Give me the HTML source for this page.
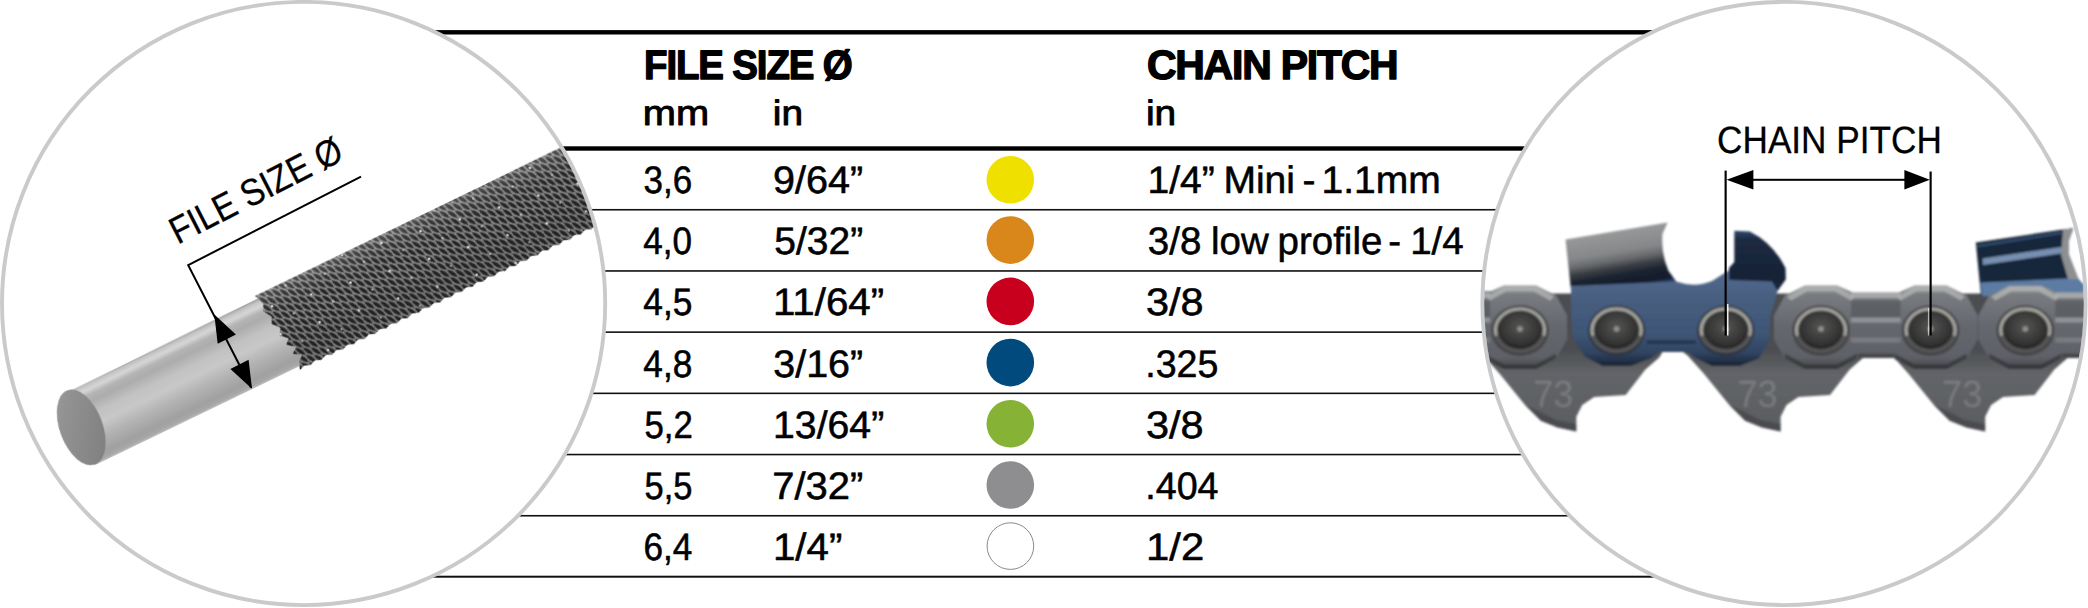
<!DOCTYPE html>
<html lang="en"><head><meta charset="utf-8"><title>File size and chain pitch</title>
<style>
html,body{margin:0;padding:0;background:#fff}
body{width:2088px;height:608px;overflow:hidden}
svg{display:block;font-family:'Liberation Sans', sans-serif}
</style></head><body>
<svg width="2088" height="608" viewBox="0 0 2088 608" text-rendering="geometricPrecision">
<rect x="430" y="30.1" width="1230" height="4.4" fill="#000"/>
<rect x="540" y="146.3" width="1000" height="4.4" fill="#000"/>
<rect x="430" y="208.95" width="1230" height="1.6" fill="#111"/>
<rect x="430" y="270.15" width="1230" height="1.6" fill="#111"/>
<rect x="430" y="331.35" width="1230" height="1.6" fill="#111"/>
<rect x="430" y="392.55" width="1230" height="1.6" fill="#111"/>
<rect x="430" y="453.75" width="1230" height="1.6" fill="#111"/>
<rect x="430" y="514.95" width="1230" height="1.6" fill="#111"/>
<rect x="430" y="575.70" width="1230" height="2.0" fill="#111"/>
<circle cx="1010.3" cy="179.8" r="23.8" fill="#f0e000"/>
<circle cx="1010.3" cy="240.1" r="23.8" fill="#d9861b"/>
<circle cx="1010.3" cy="301.4" r="23.8" fill="#c8001e"/>
<circle cx="1010.3" cy="362.6" r="23.8" fill="#004a7d"/>
<circle cx="1010.3" cy="423.8" r="23.8" fill="#86b235"/>
<circle cx="1010.3" cy="485.0" r="23.8" fill="#8e8e90"/>
<circle cx="1010.4" cy="546.1" r="23.3" fill="#fff" stroke="#8a8a8a" stroke-width="1"/>
<text transform="translate(644.03 79.4) scale(0.9374 1)" style="font-size:41.0px;font-weight:bold;letter-spacing:-1.2px;stroke:#000;stroke-width:1.4px;stroke-linejoin:round;">FILE SIZE Ø</text>
<text transform="translate(1146.90 79.4) scale(0.9982 1)" style="font-size:41.0px;font-weight:bold;letter-spacing:-1.2px;stroke:#000;stroke-width:1.4px;stroke-linejoin:round;">CHAIN PITCH</text>
<text transform="translate(642.74 124.55) scale(1.1306 1)" style="font-size:35.2px;font-weight:normal;stroke:#000;stroke-width:0.9px;stroke-linejoin:round;">mm</text>
<text transform="translate(772.80 124.55) scale(1.1021 1)" style="font-size:35.2px;font-weight:normal;stroke:#000;stroke-width:0.9px;stroke-linejoin:round;">in</text>
<text transform="translate(1146.00 124.55) scale(1.1021 1)" style="font-size:35.2px;font-weight:normal;stroke:#000;stroke-width:0.9px;stroke-linejoin:round;">in</text>
<text transform="translate(643.61 192.75) scale(0.9139 1)" style="font-size:38.3px;font-weight:normal;stroke:#000;stroke-width:0.55px;stroke-linejoin:round;">3,6</text>
<text transform="translate(773.05 192.75) scale(1.0324 1)" style="font-size:38.3px;font-weight:normal;stroke:#000;stroke-width:0.55px;stroke-linejoin:round;">9/64”</text>
<text transform="translate(0 192.75) scale(1.0198 1)" style="font-size:38.3px;font-weight:normal;stroke:#000;stroke-width:0.55px;stroke-linejoin:round;"><tspan x="1125.23">1/4”</tspan> <tspan x="1199.65">Mini</tspan> <tspan x="1277.33">-</tspan> <tspan x="1295.88">1.1mm</tspan></text>
<text transform="translate(643.29 253.72) scale(0.9155 1)" style="font-size:38.3px;font-weight:normal;stroke:#000;stroke-width:0.55px;stroke-linejoin:round;">4,0</text>
<text transform="translate(774.33 253.72) scale(1.0176 1)" style="font-size:38.3px;font-weight:normal;stroke:#000;stroke-width:0.55px;stroke-linejoin:round;">5/32”</text>
<text transform="translate(0 253.72) scale(1.0053 1)" style="font-size:38.3px;font-weight:normal;stroke:#000;stroke-width:0.55px;stroke-linejoin:round;"><tspan x="1141.81">3/8</tspan> <tspan x="1204.56">low</tspan> <tspan x="1270.77">profile</tspan> <tspan x="1380.89">-</tspan> <tspan x="1402.74">1/4</tspan></text>
<text transform="translate(643.29 314.72) scale(0.9223 1)" style="font-size:38.3px;font-weight:normal;stroke:#000;stroke-width:0.55px;stroke-linejoin:round;">4,5</text>
<text transform="translate(772.97 314.72) scale(1.0513 1)" style="font-size:38.3px;font-weight:normal;stroke:#000;stroke-width:0.55px;stroke-linejoin:round;">11/64”</text>
<text transform="translate(1145.90 314.72) scale(1.0822 1)" style="font-size:38.3px;font-weight:normal;stroke:#000;stroke-width:0.55px;stroke-linejoin:round;">3/8</text>
<text transform="translate(643.29 376.72) scale(0.9200 1)" style="font-size:38.3px;font-weight:normal;stroke:#000;stroke-width:0.55px;stroke-linejoin:round;">4,8</text>
<text transform="translate(773.31 376.72) scale(1.0294 1)" style="font-size:38.3px;font-weight:normal;stroke:#000;stroke-width:0.55px;stroke-linejoin:round;">3/16”</text>
<text transform="translate(1145.32 376.72) scale(0.9800 1)" style="font-size:38.3px;font-weight:normal;stroke:#000;stroke-width:0.55px;stroke-linejoin:round;">.325</text>
<text transform="translate(644.46 437.72) scale(0.9085 1)" style="font-size:38.3px;font-weight:normal;stroke:#000;stroke-width:0.55px;stroke-linejoin:round;">5,2</text>
<text transform="translate(773.04 437.72) scale(1.0238 1)" style="font-size:38.3px;font-weight:normal;stroke:#000;stroke-width:0.55px;stroke-linejoin:round;">13/64”</text>
<text transform="translate(1145.90 437.72) scale(1.0822 1)" style="font-size:38.3px;font-weight:normal;stroke:#000;stroke-width:0.55px;stroke-linejoin:round;">3/8</text>
<text transform="translate(644.48 498.72) scale(0.8995 1)" style="font-size:38.3px;font-weight:normal;stroke:#000;stroke-width:0.55px;stroke-linejoin:round;">5,5</text>
<text transform="translate(772.18 498.72) scale(1.0426 1)" style="font-size:38.3px;font-weight:normal;stroke:#000;stroke-width:0.55px;stroke-linejoin:round;">7/32”</text>
<text transform="translate(1145.31 498.72) scale(0.9823 1)" style="font-size:38.3px;font-weight:normal;stroke:#000;stroke-width:0.55px;stroke-linejoin:round;">.404</text>
<text transform="translate(643.39 559.72) scale(0.9182 1)" style="font-size:38.3px;font-weight:normal;stroke:#000;stroke-width:0.55px;stroke-linejoin:round;">6,4</text>
<text transform="translate(772.97 559.72) scale(1.0504 1)" style="font-size:38.3px;font-weight:normal;stroke:#000;stroke-width:0.55px;stroke-linejoin:round;">1/4”</text>
<text transform="translate(1146.02 559.72) scale(1.0918 1)" style="font-size:38.3px;font-weight:normal;stroke:#000;stroke-width:0.55px;stroke-linejoin:round;">1/2</text>
<defs>
<clipPath id="clipL"><circle cx="303.6" cy="303.5" r="299.8"/></clipPath>
<linearGradient id="gShank" x1="0" y1="-37" x2="0" y2="42" gradientUnits="userSpaceOnUse"><stop offset="0" stop-color="#a0a0a0"/><stop offset="0.04" stop-color="#c4c4c4"/><stop offset="0.10" stop-color="#d6d6d6"/><stop offset="0.17" stop-color="#b4b4b4"/><stop offset="0.25" stop-color="#acacac"/><stop offset="0.40" stop-color="#c2c2c2"/><stop offset="0.54" stop-color="#c8c8c8"/><stop offset="0.72" stop-color="#b2b2b2"/><stop offset="0.90" stop-color="#a0a0a0"/><stop offset="0.97" stop-color="#a8a8a8"/><stop offset="1" stop-color="#c0c0c0"/></linearGradient>
<linearGradient id="gFace" x1="0" y1="0" x2="1" y2="1"><stop offset="0" stop-color="#9a9a9a"/><stop offset="0.5" stop-color="#8b8b8b"/><stop offset="1" stop-color="#7c7c7c"/></linearGradient>
<pattern id="pThread" width="13" height="9" patternUnits="userSpaceOnUse" patternTransform="rotate(59)"><rect width="13" height="9" fill="#8a8a8a"/><g fill="#242424"><path d="M0,2.25 Q6.5,-1.7 13,2.25 Q6.5,6.2 0,2.25 Z"/><path d="M-6.5,6.75 Q0,2.8 6.5,6.75 Q0,10.7 -6.5,6.75 Z"/><path d="M6.5,6.75 Q13,2.8 19.5,6.75 Q13,10.7 6.5,6.75 Z"/></g></pattern>
<pattern id="pSpeck" width="41" height="29" patternUnits="userSpaceOnUse" patternTransform="rotate(9)"><circle cx="5" cy="4" r="1.3" fill="#e8e8e8"/><circle cx="24" cy="17" r="1.1" fill="#d0d0d0"/></pattern>
<filter id="fSoftL" x="-5%" y="-20%" width="110%" height="140%"><feGaussianBlur stdDeviation="0.55"/></filter>
<linearGradient id="gThread" x1="0" y1="-42" x2="0" y2="42" gradientUnits="userSpaceOnUse"><stop offset="0" stop-color="#fff" stop-opacity="0.22"/><stop offset="0.12" stop-color="#fff" stop-opacity="0.10"/><stop offset="0.45" stop-color="#000" stop-opacity="0.0"/><stop offset="0.85" stop-color="#000" stop-opacity="0.12"/><stop offset="1" stop-color="#000" stop-opacity="0.05"/></linearGradient>
</defs>
<circle cx="303.6" cy="303.5" r="301.6" fill="#fff" stroke="#c9cacc" stroke-width="3.9"/>
<g clip-path="url(#clipL)">
<g transform="translate(274.4 331.7) rotate(-25.8)">
<path d="M-211.8,-35.6 L16,-37.2 L16,42 L-219.2,41.9 Z" fill="url(#gShank)" filter="url(#fSoftL)"/>
<g filter="url(#fSoftL)">
<path d="M-2,-40.5 L420,-41.5 L420.0,43.5 L414.0,45.7 L408.0,43.5 L402.0,45.7 L396.0,43.5 L390.0,45.7 L384.0,43.5 L378.0,45.7 L372.0,43.5 L366.0,45.7 L360.0,43.5 L354.0,45.7 L348.0,43.5 L342.0,45.7 L336.0,43.5 L330.0,45.7 L324.0,43.5 L318.0,45.7 L312.0,43.5 L306.0,45.7 L300.0,43.5 L294.0,45.7 L288.0,43.5 L282.0,45.7 L276.0,43.5 L270.0,45.7 L264.0,43.5 L258.0,45.7 L252.0,43.5 L246.0,45.7 L240.0,43.5 L234.0,45.7 L228.0,43.5 L222.0,45.7 L216.0,43.5 L210.0,45.7 L204.0,43.5 L198.0,45.7 L192.0,43.5 L186.0,45.7 L180.0,43.5 L174.0,45.7 L168.0,43.5 L162.0,45.7 L156.0,43.5 L150.0,45.7 L144.0,43.5 L138.0,45.7 L132.0,43.5 L126.0,45.7 L120.0,43.5 L114.0,45.7 L108.0,43.5 L102.0,45.7 L96.0,43.5 L90.0,45.7 L84.0,43.5 L78.0,45.7 L72.0,43.5 L66.0,45.7 L60.0,43.5 L54.0,45.7 L48.0,43.5 L42.0,45.7 L36.0,43.5 L30.0,45.7 L24.0,43.5 L18.0,45.7 L12.0,43.5 L6.0,45.7 L10,37 L15,33 L7,28 L13,23 L5,17 L10,12 L3,6 L7,-1 L1,-8 L4,-15 L-1,-23 L2,-30 Z" fill="url(#pThread)"/>
<path d="M-2,-40.5 L420,-41.5 L420.0,43.5 L414.0,45.7 L408.0,43.5 L402.0,45.7 L396.0,43.5 L390.0,45.7 L384.0,43.5 L378.0,45.7 L372.0,43.5 L366.0,45.7 L360.0,43.5 L354.0,45.7 L348.0,43.5 L342.0,45.7 L336.0,43.5 L330.0,45.7 L324.0,43.5 L318.0,45.7 L312.0,43.5 L306.0,45.7 L300.0,43.5 L294.0,45.7 L288.0,43.5 L282.0,45.7 L276.0,43.5 L270.0,45.7 L264.0,43.5 L258.0,45.7 L252.0,43.5 L246.0,45.7 L240.0,43.5 L234.0,45.7 L228.0,43.5 L222.0,45.7 L216.0,43.5 L210.0,45.7 L204.0,43.5 L198.0,45.7 L192.0,43.5 L186.0,45.7 L180.0,43.5 L174.0,45.7 L168.0,43.5 L162.0,45.7 L156.0,43.5 L150.0,45.7 L144.0,43.5 L138.0,45.7 L132.0,43.5 L126.0,45.7 L120.0,43.5 L114.0,45.7 L108.0,43.5 L102.0,45.7 L96.0,43.5 L90.0,45.7 L84.0,43.5 L78.0,45.7 L72.0,43.5 L66.0,45.7 L60.0,43.5 L54.0,45.7 L48.0,43.5 L42.0,45.7 L36.0,43.5 L30.0,45.7 L24.0,43.5 L18.0,45.7 L12.0,43.5 L6.0,45.7 L10,37 L15,33 L7,28 L13,23 L5,17 L10,12 L3,6 L7,-1 L1,-8 L4,-15 L-1,-23 L2,-30 Z" fill="url(#pSpeck)"/>
<path d="M-2,-40.5 L420,-41.5 L420.0,43.5 L414.0,45.7 L408.0,43.5 L402.0,45.7 L396.0,43.5 L390.0,45.7 L384.0,43.5 L378.0,45.7 L372.0,43.5 L366.0,45.7 L360.0,43.5 L354.0,45.7 L348.0,43.5 L342.0,45.7 L336.0,43.5 L330.0,45.7 L324.0,43.5 L318.0,45.7 L312.0,43.5 L306.0,45.7 L300.0,43.5 L294.0,45.7 L288.0,43.5 L282.0,45.7 L276.0,43.5 L270.0,45.7 L264.0,43.5 L258.0,45.7 L252.0,43.5 L246.0,45.7 L240.0,43.5 L234.0,45.7 L228.0,43.5 L222.0,45.7 L216.0,43.5 L210.0,45.7 L204.0,43.5 L198.0,45.7 L192.0,43.5 L186.0,45.7 L180.0,43.5 L174.0,45.7 L168.0,43.5 L162.0,45.7 L156.0,43.5 L150.0,45.7 L144.0,43.5 L138.0,45.7 L132.0,43.5 L126.0,45.7 L120.0,43.5 L114.0,45.7 L108.0,43.5 L102.0,45.7 L96.0,43.5 L90.0,45.7 L84.0,43.5 L78.0,45.7 L72.0,43.5 L66.0,45.7 L60.0,43.5 L54.0,45.7 L48.0,43.5 L42.0,45.7 L36.0,43.5 L30.0,45.7 L24.0,43.5 L18.0,45.7 L12.0,43.5 L6.0,45.7 L10,37 L15,33 L7,28 L13,23 L5,17 L10,12 L3,6 L7,-1 L1,-8 L4,-15 L-1,-23 L2,-30 Z" fill="url(#gThread)"/>
</g>
</g>
<ellipse cx="81.2" cy="427.4" rx="21.5" ry="39.6" transform="rotate(-20.4 81.2 427.4)" fill="url(#gFace)" filter="url(#fSoftL)"/>
</g>
<path d="M361,176.7 L188.2,265.1 L251,387.5" fill="none" stroke="#000" stroke-width="2"/>
<polygon points="214.3,314.6 235.9,334.5 217.7,343.7" fill="#000"/>
<polygon points="252.0,388.8 230.4,368.9 248.6,359.7" fill="#000"/>
<text transform="translate(177.7 244.8) rotate(-27.1) scale(0.882 1)" style="font-size:37.7px;stroke:#000;stroke-width:0.3px">FILE SIZE Ø</text>
<defs>
<clipPath id="clipR"><circle cx="1784.0" cy="303.5" r="299.8"/></clipPath>
<linearGradient id="gLink" x1="0" y1="350" x2="0" y2="432" gradientUnits="userSpaceOnUse"><stop offset="0" stop-color="#4c4e51"/><stop offset="0.3" stop-color="#636568"/><stop offset="1" stop-color="#5a5c5f"/></linearGradient>
<linearGradient id="gStrap" x1="0" y1="285" x2="0" y2="370" gradientUnits="userSpaceOnUse"><stop offset="0" stop-color="#94969a"/><stop offset="0.12" stop-color="#787b80"/><stop offset="0.5" stop-color="#64676d"/><stop offset="0.85" stop-color="#5e6167"/><stop offset="1" stop-color="#3f4145"/></linearGradient>
<linearGradient id="gBlue" x1="0" y1="283" x2="0" y2="366" gradientUnits="userSpaceOnUse"><stop offset="0" stop-color="#4e6588"/><stop offset="0.25" stop-color="#465d7e"/><stop offset="0.6" stop-color="#3f5677"/><stop offset="0.85" stop-color="#30435f"/><stop offset="1" stop-color="#182334"/></linearGradient>
<linearGradient id="gPlate" x1="1616" y1="231" x2="1626" y2="289" gradientUnits="userSpaceOnUse"><stop offset="0" stop-color="#96989a"/><stop offset="0.35" stop-color="#858789"/><stop offset="0.5" stop-color="#66686b"/><stop offset="0.62" stop-color="#3a3d43"/><stop offset="0.75" stop-color="#1b2330"/><stop offset="0.93" stop-color="#111b2c"/><stop offset="1" stop-color="#2a456b"/></linearGradient>
<linearGradient id="gGauge" x1="0" y1="230" x2="0" y2="292" gradientUnits="userSpaceOnUse"><stop offset="0" stop-color="#2f4a70"/><stop offset="0.15" stop-color="#1c2a42"/><stop offset="0.75" stop-color="#162235"/><stop offset="1" stop-color="#1a2940"/></linearGradient>
<radialGradient id="gRivOut" cx="0.5" cy="0.5" r="0.5"><stop offset="0" stop-color="#3a3a3a"/><stop offset="0.8" stop-color="#404040"/><stop offset="0.92" stop-color="#5a5a5a"/><stop offset="1" stop-color="#4a4a4c"/></radialGradient>
<radialGradient id="gRivIn" cx="0.5" cy="0.42" r="0.55"><stop offset="0" stop-color="#565654"/><stop offset="0.45" stop-color="#424241"/><stop offset="0.8" stop-color="#343434"/><stop offset="1" stop-color="#262626"/></radialGradient>
</defs>
<circle cx="1784.0" cy="303.5" r="301.6" fill="#fff" stroke="#c9cacc" stroke-width="3.9"/>
<filter id="fSoft" x="-5%" y="-5%" width="110%" height="110%"><feGaussianBlur stdDeviation="0.8"/></filter>
<g clip-path="url(#clipR)"><g filter="url(#fSoft)">
<polygon points="1478.7,352.0 1483.6,355.7 1499.4,373.4 1525.0,405.0 1540.8,420.8 1557.7,427.5 1576.3,431.6 1576.3,416.8 1582.2,405.0 1594.1,397.1 1625.7,395.1 1645.4,369.5 1659.2,357.6 1663.7,350.0 1663.7,293.5 1478.7,293.5" fill="url(#gLink)"/><polygon points="1525.0,405.0 1540.8,420.8 1557.7,427.5 1576.3,431.6 1576.3,424.0 1555.7,420.0 1540.7,412.0" fill="#3f4144" fill-opacity="0.6"/><text transform="translate(1533.2 406.5) scale(0.95 1)" style="font-size:38px" fill="#9a9c9e" fill-opacity="0.42">73</text>
<polygon points="1683.0,352.0 1687.9,355.7 1703.7,373.4 1729.3,405.0 1745.1,420.8 1762.0,427.5 1780.6,431.6 1780.6,416.8 1786.5,405.0 1798.4,397.1 1830.0,395.1 1849.7,369.5 1863.5,357.6 1868.0,350.0 1868.0,293.5 1683.0,293.5" fill="url(#gLink)"/><polygon points="1729.3,405.0 1745.1,420.8 1762.0,427.5 1780.6,431.6 1780.6,424.0 1760.0,420.0 1745.0,412.0" fill="#3f4144" fill-opacity="0.6"/><text transform="translate(1737.5 406.5) scale(0.95 1)" style="font-size:38px" fill="#9a9c9e" fill-opacity="0.42">73</text>
<polygon points="1887.6,352.0 1892.5,355.7 1908.3,373.4 1933.9,405.0 1949.7,420.8 1966.6,427.5 1985.2,431.6 1985.2,416.8 1991.1,405.0 2003.0,397.1 2034.6,395.1 2054.3,369.5 2068.1,357.6 2072.6,350.0 2072.6,293.5 1887.6,293.5" fill="url(#gLink)"/><polygon points="1933.9,405.0 1949.7,420.8 1966.6,427.5 1985.2,431.6 1985.2,424.0 1964.6,420.0 1949.6,412.0" fill="#3f4144" fill-opacity="0.6"/><text transform="translate(1942.1 406.5) scale(0.95 1)" style="font-size:38px" fill="#9a9c9e" fill-opacity="0.42">73</text>
<polygon points="1975.8,242.6 2063,229.5 2073.3,228.2 2069,240 2069,255 2078.5,279.5 2084,285 2084,296 1981,296" fill="#17253a"/>
<polygon points="1982.5,258.5 2063,246.8 2064,253 1983,265" fill="#7790b0"/>
<polygon points="1977,245 2062,231.5 2062,234 1977,247.5" fill="#3a5578" fill-opacity="0.8"/>
<polygon points="1980.5,282.5 2078,278 2084,286 2084,296 1982,296" fill="#5b7ba3"/>
<polygon points="2063,229.5 2073.3,228.2 2069,240 2069,255 2078.5,279.5 2068,279 2061,255" fill="#8d8f91"/>
<rect x="1478" y="291.0" width="30" height="67" fill="url(#gStrap)"/>
<path d="M1408.0,285.5 L1440.0,285.5 L1456.0,292.5 L1488.0,292.5 L1504.0,285.5 L1536.0,285.5 L1556.0,295.5 L1567.0,315.5 L1567.0,339.5 L1556.0,358.5 L1536.0,369.0 L1504.0,369.0 L1486.0,360.5 L1483.0,358.0 L1461.0,358.0 L1458.0,360.5 L1440.0,369.0 L1408.0,369.0 L1388.0,358.5 L1377.0,339.5 L1377.0,315.5 L1388.0,295.5 Z" fill="url(#gStrap)"/><path d="M1390.0,296.5 L1408.0,286.5 L1440.0,286.5 L1458.0,296.5 L1454.0,300.5 L1438.0,291.5 L1410.0,291.5 L1394.0,300.5 Z" fill="#c2c3c0" fill-opacity="0.62"/><path d="M1388.0,353.5 L1408.0,364.5 L1440.0,364.5 L1460.0,353.5 L1460.0,358.5 L1440.0,369.0 L1408.0,369.0 L1388.0,358.5 Z" fill="#2c2d30" fill-opacity="0.6"/><path d="M1486.0,296.5 L1504.0,286.5 L1536.0,286.5 L1554.0,296.5 L1550.0,300.5 L1534.0,291.5 L1506.0,291.5 L1490.0,300.5 Z" fill="#c2c3c0" fill-opacity="0.62"/><path d="M1484.0,353.5 L1504.0,364.5 L1536.0,364.5 L1556.0,353.5 L1556.0,358.5 L1536.0,369.0 L1504.0,369.0 L1484.0,358.5 Z" fill="#2c2d30" fill-opacity="0.6"/><rect x="1454.0" y="292.5" width="36.0" height="5.5" fill="#b4b5b4" fill-opacity="0.75"/><rect x="1454.0" y="300.5" width="36.0" height="17" fill="#4c4e52" fill-opacity="0.5"/><rect x="1454.0" y="317.5" width="36.0" height="5" fill="#a2a3a5" fill-opacity="0.7"/><rect x="1454.0" y="337.5" width="36.0" height="5" fill="#8a8b8e" fill-opacity="0.6"/><rect x="1461.0" y="353.5" width="22.0" height="4.5" fill="#3a3b3e" fill-opacity="0.7"/>
<path d="M1805.0,285.5 L1837.0,285.5 L1853.0,292.5 L1898.6,292.5 L1914.6,285.5 L1946.6,285.5 L1966.6,295.5 L1977.6,315.5 L1977.6,339.5 L1966.6,358.5 L1946.6,369.0 L1914.6,369.0 L1896.6,360.5 L1893.6,358.0 L1858.0,358.0 L1855.0,360.5 L1837.0,369.0 L1805.0,369.0 L1785.0,358.5 L1774.0,339.5 L1774.0,315.5 L1785.0,295.5 Z" fill="url(#gStrap)"/><path d="M1787.0,296.5 L1805.0,286.5 L1837.0,286.5 L1855.0,296.5 L1851.0,300.5 L1835.0,291.5 L1807.0,291.5 L1791.0,300.5 Z" fill="#c2c3c0" fill-opacity="0.62"/><path d="M1785.0,353.5 L1805.0,364.5 L1837.0,364.5 L1857.0,353.5 L1857.0,358.5 L1837.0,369.0 L1805.0,369.0 L1785.0,358.5 Z" fill="#2c2d30" fill-opacity="0.6"/><path d="M1896.6,296.5 L1914.6,286.5 L1946.6,286.5 L1964.6,296.5 L1960.6,300.5 L1944.6,291.5 L1916.6,291.5 L1900.6,300.5 Z" fill="#c2c3c0" fill-opacity="0.62"/><path d="M1894.6,353.5 L1914.6,364.5 L1946.6,364.5 L1966.6,353.5 L1966.6,358.5 L1946.6,369.0 L1914.6,369.0 L1894.6,358.5 Z" fill="#2c2d30" fill-opacity="0.6"/><rect x="1851.0" y="292.5" width="49.59999999999991" height="5.5" fill="#b4b5b4" fill-opacity="0.75"/><rect x="1851.0" y="300.5" width="49.59999999999991" height="17" fill="#4c4e52" fill-opacity="0.5"/><rect x="1851.0" y="317.5" width="49.59999999999991" height="5" fill="#a2a3a5" fill-opacity="0.7"/><rect x="1851.0" y="337.5" width="49.59999999999991" height="5" fill="#8a8b8e" fill-opacity="0.6"/><rect x="1858.0" y="353.5" width="35.59999999999991" height="4.5" fill="#3a3b3e" fill-opacity="0.7"/>
<path d="M2009.3,285.5 L2041.3,285.5 L2057.3,292.5 L2089.3,292.5 L2105.3,285.5 L2137.3,285.5 L2157.3,295.5 L2168.3,315.5 L2168.3,339.5 L2157.3,358.5 L2137.3,369.0 L2105.3,369.0 L2087.3,360.5 L2084.3,358.0 L2062.3,358.0 L2059.3,360.5 L2041.3,369.0 L2009.3,369.0 L1989.3,358.5 L1978.3,339.5 L1978.3,315.5 L1989.3,295.5 Z" fill="url(#gStrap)"/><path d="M1991.3,296.5 L2009.3,286.5 L2041.3,286.5 L2059.3,296.5 L2055.3,300.5 L2039.3,291.5 L2011.3,291.5 L1995.3,300.5 Z" fill="#c2c3c0" fill-opacity="0.62"/><path d="M1989.3,353.5 L2009.3,364.5 L2041.3,364.5 L2061.3,353.5 L2061.3,358.5 L2041.3,369.0 L2009.3,369.0 L1989.3,358.5 Z" fill="#2c2d30" fill-opacity="0.6"/><path d="M2087.3,296.5 L2105.3,286.5 L2137.3,286.5 L2155.3,296.5 L2151.3,300.5 L2135.3,291.5 L2107.3,291.5 L2091.3,300.5 Z" fill="#c2c3c0" fill-opacity="0.62"/><path d="M2085.3,353.5 L2105.3,364.5 L2137.3,364.5 L2157.3,353.5 L2157.3,358.5 L2137.3,369.0 L2105.3,369.0 L2085.3,358.5 Z" fill="#2c2d30" fill-opacity="0.6"/><rect x="2055.3" y="292.5" width="36.00000000000023" height="5.5" fill="#b4b5b4" fill-opacity="0.75"/><rect x="2055.3" y="300.5" width="36.00000000000023" height="17" fill="#4c4e52" fill-opacity="0.5"/><rect x="2055.3" y="317.5" width="36.00000000000023" height="5" fill="#a2a3a5" fill-opacity="0.7"/><rect x="2055.3" y="337.5" width="36.00000000000023" height="5" fill="#8a8b8e" fill-opacity="0.6"/><rect x="2062.3" y="353.5" width="22.000000000000227" height="4.5" fill="#3a3b3e" fill-opacity="0.7"/>
<path d="M1565.5,239.6 L1667.7,222.6 L1662.5,233.7 Q1661,254 1668.4,270.7 L1678,284 L1680,290 L1571,290 Z" fill="url(#gPlate)"/>
<path d="M1571,286 L1676,281.5 Q1695,288 1712,281 L1729.5,270 L1765,272 L1781,281 L1777.5,291 L1769.8,317.5 L1768.8,341.5 L1758.8,358.5 L1739.8,366.0 L1711.8,366.0 L1694.8,357.5 L1687.8,352.0 L1659.6,352.0 L1650.6,358.5 L1630.6,366.0 L1602.6,366.0 L1584.6,356.5 L1573.6,339.5 L1571.1,315.5 Z" fill="url(#gBlue)"/>
<path d="M1734.3,230.7 L1749.8,231.5 Q1773,243 1785.5,268 L1785.8,279.5 L1777.5,291 L1772,281.5 L1729.3,280 L1729,268 L1734.3,262 Z" fill="url(#gGauge)"/>
<rect x="1646.6" y="340.5" width="49.200000000000045" height="3.5" fill="#1b2e4d" fill-opacity="0.8"/>
<ellipse cx="1520.0" cy="330.5" rx="29" ry="25.5" fill="#2b2c2e" fill-opacity="0.5"/><ellipse cx="1520.0" cy="329.5" rx="27" ry="23.5" fill="url(#gRivOut)"/><path d="M1496.0,334.5 A24.5,21.3 0 1 1 1544.0,334.5" fill="none" stroke="#bfbeb6" stroke-width="3" stroke-opacity="0.75" stroke-linecap="round"/><ellipse cx="1520.0" cy="330.0" rx="21.5" ry="18.7" fill="url(#gRivIn)"/><circle cx="1520.0" cy="329.0" r="2.8" fill="#8f8f8a"/>
<ellipse cx="1616.6" cy="330.5" rx="29" ry="25.5" fill="#2b2c2e" fill-opacity="0.5"/><ellipse cx="1616.6" cy="329.5" rx="27" ry="23.5" fill="url(#gRivOut)"/><path d="M1592.6,334.5 A24.5,21.3 0 1 1 1640.6,334.5" fill="none" stroke="#bfbeb6" stroke-width="3" stroke-opacity="0.75" stroke-linecap="round"/><ellipse cx="1616.6" cy="330.0" rx="21.5" ry="18.7" fill="url(#gRivIn)"/><circle cx="1616.6" cy="329.0" r="2.8" fill="#8f8f8a"/>
<ellipse cx="1725.8" cy="330.5" rx="29" ry="25.5" fill="#2b2c2e" fill-opacity="0.5"/><ellipse cx="1725.8" cy="329.5" rx="27" ry="23.5" fill="url(#gRivOut)"/><path d="M1701.8,334.5 A24.5,21.3 0 1 1 1749.8,334.5" fill="none" stroke="#bfbeb6" stroke-width="3" stroke-opacity="0.75" stroke-linecap="round"/><ellipse cx="1725.8" cy="330.0" rx="21.5" ry="18.7" fill="url(#gRivIn)"/><circle cx="1725.8" cy="329.0" r="2.8" fill="#8f8f8a"/>
<ellipse cx="1821.0" cy="330.5" rx="29" ry="25.5" fill="#2b2c2e" fill-opacity="0.5"/><ellipse cx="1821.0" cy="329.5" rx="27" ry="23.5" fill="url(#gRivOut)"/><path d="M1797.0,334.5 A24.5,21.3 0 1 1 1845.0,334.5" fill="none" stroke="#bfbeb6" stroke-width="3" stroke-opacity="0.75" stroke-linecap="round"/><ellipse cx="1821.0" cy="330.0" rx="21.5" ry="18.7" fill="url(#gRivIn)"/><circle cx="1821.0" cy="329.0" r="2.8" fill="#8f8f8a"/>
<ellipse cx="1930.6" cy="330.5" rx="29" ry="25.5" fill="#2b2c2e" fill-opacity="0.5"/><ellipse cx="1930.6" cy="329.5" rx="27" ry="23.5" fill="url(#gRivOut)"/><path d="M1906.6,334.5 A24.5,21.3 0 1 1 1954.6,334.5" fill="none" stroke="#bfbeb6" stroke-width="3" stroke-opacity="0.75" stroke-linecap="round"/><ellipse cx="1930.6" cy="330.0" rx="21.5" ry="18.7" fill="url(#gRivIn)"/><circle cx="1930.6" cy="329.0" r="2.8" fill="#8f8f8a"/>
<ellipse cx="2025.3" cy="330.5" rx="29" ry="25.5" fill="#2b2c2e" fill-opacity="0.5"/><ellipse cx="2025.3" cy="329.5" rx="27" ry="23.5" fill="url(#gRivOut)"/><path d="M2001.3,334.5 A24.5,21.3 0 1 1 2049.3,334.5" fill="none" stroke="#bfbeb6" stroke-width="3" stroke-opacity="0.75" stroke-linecap="round"/><ellipse cx="2025.3" cy="330.0" rx="21.5" ry="18.7" fill="url(#gRivIn)"/><circle cx="2025.3" cy="329.0" r="2.8" fill="#8f8f8a"/>
</g></g>
<rect x="1726.9" y="304" width="1.6" height="31.5" fill="#fff" fill-opacity="0.9"/>
<rect x="1927.9" y="308" width="1.5" height="27.5" fill="#fff" fill-opacity="0.6"/>
<rect x="1724.55" y="170.6" width="2.15" height="165" fill="#000"/>
<rect x="1929.55" y="171.5" width="2.15" height="164" fill="#000"/>
<rect x="1745" y="178.8" width="168" height="2" fill="#000"/>
<polygon points="1726.6,179.8 1753.4,170.1 1753.4,189.5" fill="#000"/>
<polygon points="1929.8,179.8 1904.4,170.1 1904.4,189.5" fill="#000"/>
<text transform="translate(1717.1 152.7) scale(0.9255 1)" style="font-size:38px;stroke:#000;stroke-width:0.3px">CHAIN PITCH</text>
</svg>
</body></html>
